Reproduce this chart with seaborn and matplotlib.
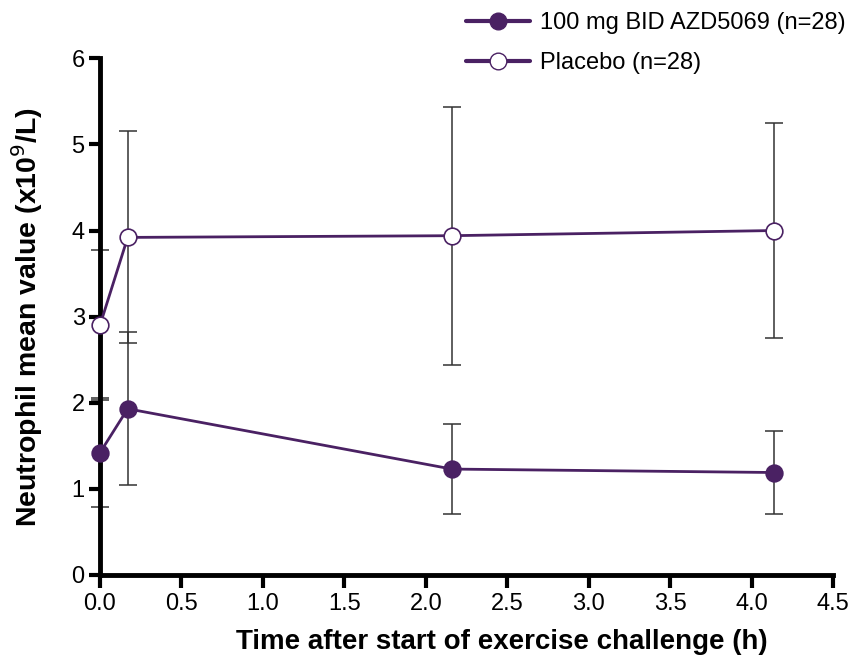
import matplotlib
matplotlib.use("Agg")
import matplotlib.pyplot as plt
import seaborn as sns
import pandas as pd
from matplotlib.lines import Line2D

# ---- data ----
time_h = [0.0, 0.17, 2.16, 4.14]
azd_mean = [1.42, 1.93, 1.23, 1.19]
azd_err = [0.63, 0.89, 0.52, 0.48]
placebo_mean = [2.90, 3.92, 3.94, 4.00]
placebo_err = [0.87, 1.23, 1.50, 1.25]
series_labels = ["100 mg BID AZD5069 (n=28)", "Placebo (n=28)"]
x_ticks = [0.0, 0.5, 1.0, 1.5, 2.0, 2.5, 3.0, 3.5, 4.0, 4.5]
y_ticks = [0, 1, 2, 3, 4, 5, 6]

sns.set_style("ticks")
plt.rcParams['font.family'] = ['Liberation Sans', 'DejaVu Sans']
plt.rcParams['text.color'] = 'black'
plt.rcParams['axes.labelcolor'] = 'black'
plt.rcParams['xtick.color'] = 'black'
plt.rcParams['ytick.color'] = 'black'

purple = "#4a2163"
errc = "#333333"

fig = plt.figure(figsize=(8.51, 6.70), dpi=100)
ax = fig.add_axes([0.1175, 0.1418, 0.979 - 0.1175, 0.913 - 0.1418])

df_azd = pd.DataFrame({"t": time_h, "v": azd_mean})
df_pla = pd.DataFrame({"t": time_h, "v": placebo_mean})

ax.errorbar(time_h, azd_mean, yerr=azd_err, fmt='none', ecolor=errc,
            elinewidth=1.1, capsize=6.5, capthick=1.1, zorder=2, clip_on=False)
ax.errorbar(time_h, placebo_mean, yerr=placebo_err, fmt='none', ecolor=errc,
            elinewidth=1.1, capsize=6.5, capthick=1.1, zorder=2, clip_on=False)

sns.lineplot(data=df_azd, x="t", y="v", ax=ax, color=purple, linewidth=2.0,
             marker='o', markersize=12, markerfacecolor=purple,
             markeredgecolor=purple, markeredgewidth=1.2, zorder=4, clip_on=False)
sns.lineplot(data=df_pla, x="t", y="v", ax=ax, color=purple, linewidth=2.0,
             marker='o', markersize=12, markerfacecolor='white',
             markeredgecolor=purple, markeredgewidth=1.2, zorder=4, clip_on=False)

ax.set_xlim(0, 4.5)
ax.set_ylim(0, 6)
ax.set_xticks(x_ticks)
ax.set_xticklabels([f"{t:.1f}" for t in x_ticks])
ax.set_yticks(y_ticks)
ax.set_yticklabels([str(t) for t in y_ticks])

for s in ["top", "right"]:
    ax.spines[s].set_visible(False)
for s in ["left", "bottom"]:
    ax.spines[s].set_linewidth(3.5)
    ax.spines[s].set_color("black")
    ax.spines[s].set_zorder(3)

ax.tick_params(axis='both', direction='out', length=9, width=3, color='black',
               labelsize=17, pad=4)
ax.tick_params(axis='y', length=8, pad=3)

ax.set_xlabel("Time after start of exercise challenge (h)", fontsize=20,
              fontweight='bold')
ax.set_ylabel("Neutrophil mean value (x10$^9$/L)", fontsize=20.5,
              fontweight='bold')
ax.xaxis.set_label_coords(0.548, -0.105)
ax.yaxis.set_label_coords(-0.075, 0.5)

handles = [
    Line2D([0], [0], color=purple, linewidth=3, marker='o', markersize=12,
           markerfacecolor=purple, markeredgecolor=purple),
    Line2D([0], [0], color=purple, linewidth=3, marker='o', markersize=12,
           markerfacecolor='white', markeredgecolor=purple),
]
fig.legend(handles, series_labels, loc='upper right', bbox_to_anchor=(0.997, 0.985),
           frameon=False, fontsize=17, handlelength=2.7, labelspacing=0.75,
           handletextpad=0.45, borderpad=0.1, borderaxespad=0)

fig.savefig("out.png", dpi=100)
